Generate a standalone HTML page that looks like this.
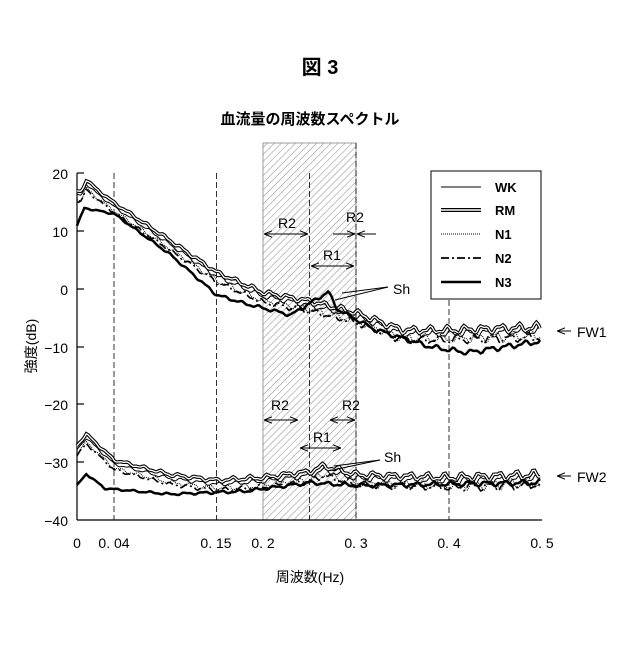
<!DOCTYPE html>
<html><head><meta charset="utf-8"><style>
body{margin:0;background:#fff}
svg text{font-family:"Liberation Sans","Noto Sans CJK JP",sans-serif;fill:#000}
</style></head><body>
<svg id="s" width="640" height="640" viewBox="0 0 640 640" xmlns="http://www.w3.org/2000/svg">
<defs><pattern id="h" width="5" height="5" patternUnits="userSpaceOnUse" patternTransform="rotate(45)"><line x1="0" y1="0" x2="0" y2="5" stroke="#888" stroke-width="1"/></pattern>
<marker id="a" viewBox="0 0 10 10" refX="10" refY="5" markerWidth="8" markerHeight="8" orient="auto-start-reverse"><path d="M0,1 L10,5 L0,9" fill="none" stroke="#000" stroke-width="1.2"/></marker></defs>
<text x="320" y="74" font-size="20" font-weight="bold" text-anchor="middle">図 3</text>
<text x="310" y="124" font-size="15" font-weight="bold" text-anchor="middle">血流量の周波数スペクトル</text>
<rect x="263" y="143" width="93" height="377" fill="url(#h)" stroke="#888" stroke-width="0.8"/>
<g stroke="#000" stroke-width="0.8" stroke-dasharray="6,3" fill="none">
<line x1="114" y1="173" x2="114" y2="520"/><line x1="216.5" y1="173" x2="216.5" y2="520"/>
<line x1="309.5" y1="173" x2="309.5" y2="520"/><line x1="449" y1="300" x2="449" y2="520"/>
<line x1="356" y1="143" x2="356" y2="520"/>
</g>
<g stroke="#000" stroke-width="1.2" fill="none">
<line x1="77" y1="173" x2="77" y2="520"/><line x1="77" y1="520" x2="542" y2="520"/>
<line x1="77" y1="173" x2="84" y2="173"/><line x1="77" y1="231" x2="84" y2="231"/><line x1="77" y1="289" x2="84" y2="289"/><line x1="77" y1="347" x2="84" y2="347"/><line x1="77" y1="404" x2="84" y2="404"/><line x1="77" y1="462" x2="84" y2="462"/>
</g>
<g font-size="14" text-anchor="end">
<text x="68" y="179">20</text><text x="68" y="237">10</text><text x="68" y="295">0</text><text x="68" y="353">−10</text><text x="68" y="410">−20</text><text x="68" y="468">−30</text><text x="68" y="526">−40</text></g>
<g font-size="14" text-anchor="middle">
<text x="77" y="548">0</text><text x="114" y="548">0. 04</text><text x="216" y="548">0. 15</text><text x="263" y="548">0. 2</text><text x="356" y="548">0. 3</text><text x="449" y="548">0. 4</text><text x="542" y="548">0. 5</text></g>
<text x="310" y="582" font-size="14" text-anchor="middle">周波数(Hz)</text>
<text transform="translate(36,346) rotate(-90)" font-size="14" text-anchor="middle">強度(dB)</text>
<g id="curves"></g>
<rect x="431" y="171" width="110" height="128" fill="#fff" stroke="#000" stroke-width="1"/>
<g stroke="#000" fill="none">
<line x1="441" y1="187" x2="481" y2="187" stroke-width="1"/>
<line x1="441" y1="210" x2="481" y2="210" stroke-width="4"/><line x1="441" y1="210" x2="481" y2="210" stroke="#fff" stroke-width="1.5"/>
<line x1="441" y1="234" x2="481" y2="234" stroke-width="1" stroke-dasharray="1,1"/>
<line x1="441" y1="258" x2="481" y2="258" stroke-width="1.8" stroke-dasharray="8,3,2,3"/>
<line x1="441" y1="282" x2="481" y2="282" stroke-width="2.5"/></g>
<g font-size="13" font-weight="bold"><text x="495" y="192">WK</text><text x="495" y="215">RM</text><text x="495" y="239">N1</text><text x="495" y="263">N2</text><text x="495" y="287">N3</text></g>
<g stroke="#000" stroke-width="1" fill="none">
<line x1="264" y1="234" x2="308" y2="234" marker-start="url(#a)" marker-end="url(#a)"/>
<line x1="333" y1="234" x2="355" y2="234" marker-end="url(#a)"/><line x1="376" y1="234" x2="357" y2="234" marker-end="url(#a)"/>
<line x1="311" y1="266" x2="354" y2="266" marker-start="url(#a)" marker-end="url(#a)"/>
<line x1="264" y1="420" x2="298" y2="420" marker-start="url(#a)" marker-end="url(#a)"/>
<line x1="330" y1="420" x2="355" y2="420" marker-start="url(#a)" marker-end="url(#a)"/>
<line x1="300" y1="448" x2="341" y2="448" marker-start="url(#a)" marker-end="url(#a)"/>
<line x1="388" y1="287" x2="342" y2="293"/><line x1="388" y1="287" x2="335" y2="300"/>
<line x1="380" y1="460" x2="334" y2="466"/><line x1="380" y1="460" x2="328" y2="471"/>
<line x1="571" y1="331" x2="557" y2="331" marker-end="url(#a)"/>
<line x1="571" y1="476" x2="557" y2="476" marker-end="url(#a)"/>
</g>
<g font-size="14"><text x="278" y="228">R2</text><text x="346" y="222">R2</text><text x="323" y="260">R1</text>
<text x="271" y="410">R2</text><text x="342" y="410">R2</text><text x="313" y="442">R1</text>
<text x="393" y="294">Sh</text><text x="384" y="462">Sh</text>
<text x="577" y="337">FW1</text><text x="577" y="482">FW2</text></g>
</svg>
<script>
function X(f){return 77+f*930}function Y(d){return 289-d*5.78}
function interp(pts,f){for(var i=0;i<pts.length-1;i++){if(f<=pts[i+1][0]){var t=(f-pts[i][0])/(pts[i+1][0]-pts[i][0]);return pts[i][1]+t*(pts[i+1][1]-pts[i][1]);}}return pts[pts.length-1][1];}
function path(pts,off,amp,seed){var d="";for(var f=0;f<=0.5;f+=0.002){var a=amp*(0.3+f*2);var v=interp(pts,f)+off+a*Math.sin(f*330+seed)+a*0.5*Math.sin(f*720+seed*2);d+=(d?"L":"M")+X(f).toFixed(1)+","+Y(v).toFixed(1);}return d;}
var A=[[0,16],[0.005,16],[0.01,18],[0.02,16.5],[0.04,14],[0.1,7.5],[0.15,2],[0.2,-1.5],[0.25,-3],[0.3,-5],[0.35,-8],[0.4,-8],[0.5,-7.5]];
var A3=[[0,11],[0.008,14],[0.04,13],[0.1,6],[0.15,-1],[0.18,-2.5],[0.23,-4.5],[0.25,-2.5],[0.27,-0.5],[0.28,-3.5],[0.32,-7],[0.38,-10],[0.42,-11],[0.5,-9]];
var B=[[0,-28],[0.01,-26],[0.04,-30.5],[0.1,-33],[0.15,-34],[0.2,-33.5],[0.25,-32.5],[0.265,-31.5],[0.3,-33],[0.4,-33.5],[0.5,-33]];
var B3=[[0,-34],[0.01,-32],[0.03,-34.5],[0.1,-35.5],[0.18,-35],[0.25,-33.5],[0.3,-34],[0.5,-33.5]];
var g=document.getElementById("curves"),h="";
function add(d,w,c,extra){h+='<path d="'+d+'" fill="none" stroke="'+c+'" stroke-width="'+w+'" '+(extra||"")+'/>';}
[[A,A3],[B,B3]].forEach(function(p,k){
add(path(p[0],0.2,0.45,1+k),1,"#000");
var rm=path(p[0],0.9,0.45,2+k);add(rm,3.5,"#000");add(rm,1.3,"#fff");
add(path(p[0],-0.5,0.6,4+k),1,"#000",'stroke-dasharray="1,1"');
add(path(p[0],-0.8,0.5,5+k),1.6,"#000",'stroke-dasharray="8,3,2,3"');
add(path(p[1],0,0.3,6+k),2.5,"#000");});
g.innerHTML=h;
</script>
</body></html>
